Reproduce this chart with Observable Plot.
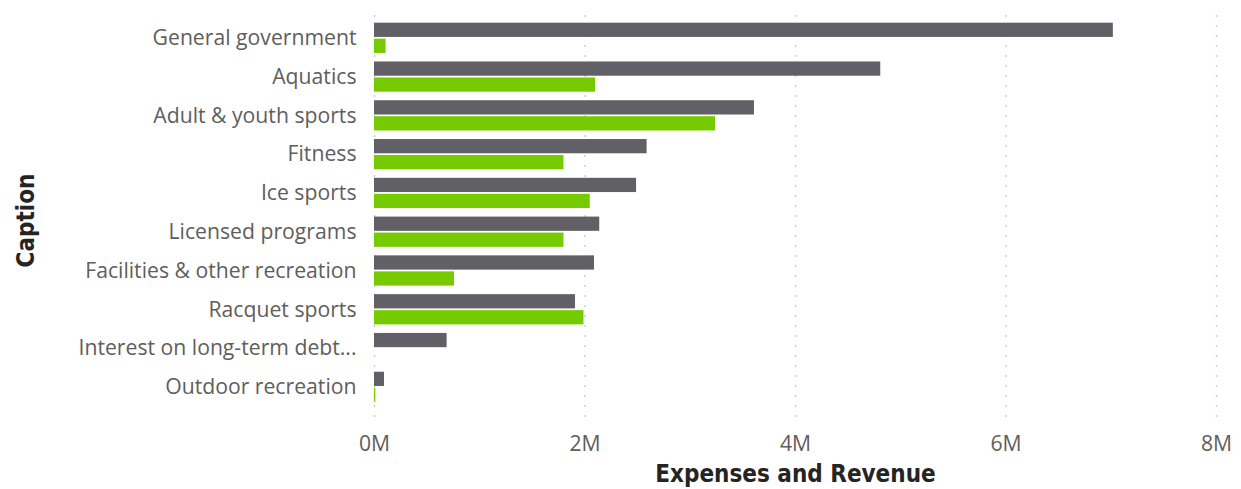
<!DOCTYPE html>
<html>
<head>
<meta charset="utf-8">
<script src="https://cdn.jsdelivr.net/npm/d3@7"></script>
<script src="https://cdn.jsdelivr.net/npm/@observablehq/plot@0.6"></script>
<style>
  html, body { margin: 0; padding: 0; background: #fff; }
  #chart { width: 1241px; height: 489px; overflow: hidden; }
</style>
</head>
<body>
<div id="chart"></div>
<script>
const categories = [
  "General government",
  "Aquatics",
  "Adult & youth sports",
  "Fitness",
  "Ice sports",
  "Licensed programs",
  "Facilities & other recreation",
  "Racquet sports",
  "Interest on long-term debt...",
  "Outdoor recreation"
];
const expenses = [7020000, 4810000, 3610000, 2590000, 2490000, 2140000, 2090000, 1910000, 690000, 95000];
const revenue  = [110000, 2100000, 3240000, 1800000, 2050000, 1800000, 760000, 1990000, 0, 12000];
const xTicks = [0, 2000000, 4000000, 6000000, 8000000];
const xTitle = "Expenses and Revenue";
const yTitle = "Caption";

const expData = categories.map((c, i) => ({caption: c, value: expenses[i]}));
const revData = categories.map((c, i) => ({caption: c, value: revenue[i]}));

const chart = Plot.plot({
  width: 1241,
  height: 489,
  marginLeft: 374,
  marginRight: 25,
  marginTop: 15,
  marginBottom: 64,
  style: {fontFamily: "'Open Sans', sans-serif", fontSize: "21.2px", color: "#605E5C", background: "#fff"},
  x: {
    domain: [0, 8000000],
    ticks: xTicks,
    tickFormat: d => (d / 1e6) + "M",
    tickSize: 0,
    tickPadding: 10,
    label: xTitle,
    labelAnchor: "center",
    labelOffset: 56
  },
  y: {
    domain: categories,
    round: false,
    paddingInner: 0.22,
    paddingOuter: 0.396,
    align: 0.25,
    tickSize: 0,
    tickPadding: 18,
    label: yTitle,
    labelAnchor: "center",
    labelOffset: 358
  },
  marks: [
    Plot.ruleX(xTicks, {stroke: "#D0CECC", strokeWidth: 1.5, strokeDasharray: "2,8"}),
    Plot.barX(expData, {x: "value", y: "caption", fill: "#606066", insetBottom: 16}),
    Plot.barX(revData, {x: "value", y: "caption", fill: "#76CB00", insetTop: 16})
  ]
});
document.getElementById("chart").appendChild(chart);

// style axis titles
d3.select(chart).selectAll("text").each(function() {
  const t = this.textContent.trim();
  if (t.startsWith(xTitle) || t.startsWith(yTitle)) {
    const sel = d3.select(this);
    const clean = t.replace(/\s*[→←↑↓]\s*/g, "");
    sel.selectAll("tspan").size() ? sel.selectAll("tspan").text(function() { return this.textContent.replace(/\s*[→←↑↓]\s*/g, ""); }) : sel.text(clean);
    sel
      .attr("font-family", "'DejaVu Sans Condensed', 'DejaVu Sans', sans-serif")
      .attr("font-weight", "bold")
      .attr("font-size", "24px")
      .attr("fill", "#252423");
  }
});
</script>
</body>
</html>
